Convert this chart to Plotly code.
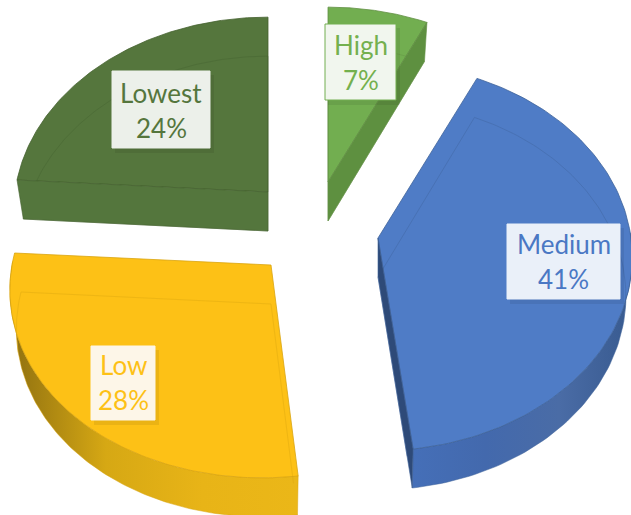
import numpy as np
import plotly.graph_objects as go

# ---- data ----
categories = ["High", "Medium", "Low", "Lowest"]
percent = [7, 41, 28, 24]

# ---- styling / layout ----
W, H = 631, 515
PERSPECTIVE = 0.098
RY = 192
DEPTH = 39
BOTTOM_SCALE = 0.975
FONT = "Lato, 'Open Sans', sans-serif"
TOP = ["#72AE50", "#4F7CC6", "#FDC116", "#55763D"]
EDGE = ["#618F43", "#3E6299", "#D9A510", "#44612F"]
TEXT = ["#74B04E", "#4A78C4", "#FDC116", "#55763D"]
BOX = ["#F1F6EE", "#EAF0F9", "#FDF6E8", "#ECF0EA"]
FACE = ["#5E9040", "#2E4A78", None, "#54763D"]   # radial cut face colour
WALL = [
    None,
    ["#456FB8", "#4369AD", "#4A6CA6", "#385A8F"],
    ["#8F7010", "#D6A814", "#E8B417", "#EBB718"],
    None,
]
CENTRE = [(328, 182), (378, 238), (271, 265), (268, 192)]
RX = [253, 253, 259, 253]
SHEAR = [0, 0, 8, 0]
BOXES = [(325, 24, 396, 100), (507, 224, 620, 299), (91, 346, 155, 420), (112, 71, 210, 148)]
TEXT_Y = [(45, 80), (244, 279), (365, 400), (93, 128)]


def project(i, theta):
    """Screen position of a rim point at clockwise angle theta (degrees)."""
    t = np.radians(theta)
    s, c = np.sin(t), np.cos(t)
    k = 1 + PERSPECTIVE * c
    cx, cy = CENTRE[i]
    return cx + (RX[i] * s + SHEAR[i] * c) / k, cy - RY * c / k


fig = go.Figure()
edges = np.cumsum([0] + percent) * 3.6


def poly(x, y, color, line=None, gradient=None, width=1):
    kw = dict(fillcolor=color) if gradient is None else dict(
        fillgradient=dict(type="horizontal",
                          colorscale=[[j / (len(gradient) - 1), g] for j, g in enumerate(gradient)]))
    fig.add_trace(go.Scatter(x=x, y=y, mode="lines", fill="toself",
                             line=dict(color=line or "rgba(0,0,0,0)", width=width),
                             hoverinfo="skip", showlegend=False, **kw))


for i in range(len(percent)):
    a, b = edges[i], edges[i + 1]
    th = np.linspace(a, b, 120)
    x, y = project(i, th)
    cos = np.cos(np.radians(th))
    cx, cy = CENTRE[i]
    lx = cx + (x - cx) * BOTTOM_SCALE    # lower rim, drawn in slightly by perspective
    ly = y + DEPTH

    # outer rim wall, behind the top surface
    if WALL[i]:
        mask = cos <= 0.03
        poly(np.r_[x[mask], lx[mask][::-1], x[mask][0]], np.r_[y[mask], ly[mask][::-1], y[mask][0]],
             WALL[i][0], gradient=WALL[i], line=EDGE[i], width=0.5)

    # top surface
    poly(np.r_[cx, x, cx], np.r_[cy, y, cy], TOP[i], line=EDGE[i], width=0.8)

    # faint bevel: the back rim and the radial edges, one slab-depth lower
    back = cos >= -0.25
    ends = [(k, 1.0 if cos[k] >= 0 else 0.85) for k in (0, -1)]
    bx = np.r_[cx + (lx[0] - cx) * ends[0][1], cx, None, lx[back], None, cx, cx + (lx[-1] - cx) * ends[1][1]]
    by = np.r_[cy + DEPTH + (y[0] - cy) * ends[0][1], cy + DEPTH, None, ly[back], None,
               cy + DEPTH, cy + DEPTH + (y[-1] - cy) * ends[1][1]]
    fig.add_trace(go.Scatter(x=bx, y=by, mode="lines", line=dict(color=EDGE[i], width=0.7),
                             opacity=0.55, hoverinfo="skip", showlegend=False))

    # radial cut faces that look towards the viewer
    if FACE[i]:
        j = 0 if i == 3 else -1 if i == 0 else -1
        poly([cx, x[j], lx[j], cx, cx], [cy, y[j], ly[j], cy + DEPTH, cy], FACE[i], line=EDGE[i], width=0.6)

# data labels
shapes, notes = [], []
for i, (name, pct) in enumerate(zip(categories, percent)):
    x0, y0, x1, y1 = BOXES[i]
    shapes.append(dict(type="rect", xref="x", yref="y", x0=x0 + 3, y0=y0 + 4, x1=x1 + 4, y1=y1 + 5,
                       fillcolor="rgba(0,0,0,0.07)", line_width=0))
    shapes.append(dict(type="rect", xref="x", yref="y", x0=x0, y0=y0, x1=x1, y1=y1,
                       fillcolor=BOX[i], line=dict(color=BOX[i] if i else TOP[i], width=1)))
    xm = (x0 + x1) / 2
    for txt, yy in zip((name, f"{pct}%"), TEXT_Y[i]):
        notes.append(dict(x=xm, y=yy, xref="x", yref="y", text=txt, showarrow=False,
                          font=dict(family=FONT, size=26, color=TEXT[i])))

fig.update_layout(
    width=W, height=H, margin=dict(l=0, r=0, t=0, b=0),
    paper_bgcolor="white", plot_bgcolor="white", showlegend=False,
    xaxis=dict(range=[0, W], visible=False, fixedrange=True),
    yaxis=dict(range=[H, 0], visible=False, fixedrange=True),
    shapes=shapes, annotations=notes,
)
fig.write_html("out.html", config={"displayModeBar": False},
               post_script="document.body.style.margin='0';document.body.style.overflow='hidden';")
